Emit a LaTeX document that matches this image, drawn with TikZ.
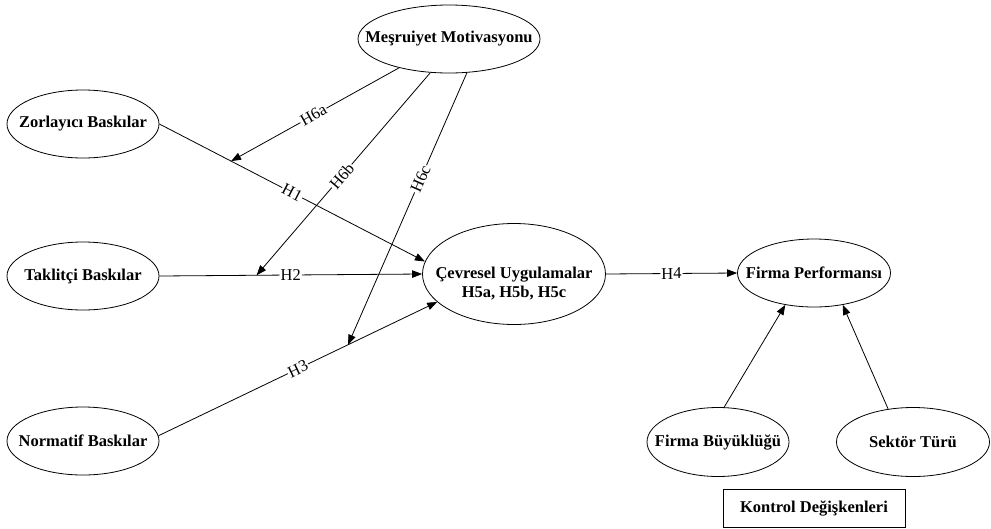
\documentclass[tikz,border=0pt]{standalone}
\usepackage{fontspec}
\setmainfont{Liberation Serif}
\usetikzlibrary{shapes.geometric}
\usetikzlibrary{arrows.meta}
\newcommand{\ovaltext}[1]{\makebox[0pt]{#1}}

\begin{document}
\begin{tikzpicture}[x=1pt, y=-1pt, line width=0.8pt,
    every node/.style={font=\fontsize{16.5}{19}\selectfont},
    oval/.style={draw, ellipse, inner sep=0pt, minimum width=152pt,
      minimum height=68pt, font=\fontsize{16.5}{19}\selectfont\bfseries},
    hyp/.style={fill=white, inner sep=1pt, sloped},
    >={Triangle[length=10pt, width=7.5pt]}]

    \useasboundingbox (0,0) rectangle (991,528);

    % Nodes
    \node at (449,39) (mesr) [oval, minimum width=182pt] {\ovaltext{Meşruiyet Motivasyonu}};
    \node at (83,124) (zor) [oval] {\ovaltext{Zorlayıcı Baskılar}};
    \node at (83,276) (tak) [oval] {\ovaltext{Taklitçi Baskılar}};
    \node at (83,441) (norm) [oval] {\ovaltext{Normatif Baskılar}};
    \node at (514,274) (cev) [oval, minimum width=183pt, minimum height=101pt]
      {\ovaltext{\raisebox{-15pt}[0pt][0pt]{\begin{tabular}{@{}c@{}}Çevresel Uygulamalar\\H5a, H5b, H5c\end{tabular}}}};
    \node at (814,273) (perf) [oval, minimum width=153pt] {\ovaltext{Firma Performansı}};
    \node at (718,442) (buy) [oval, minimum width=142pt, minimum height=69pt] {\ovaltext{Firma Büyüklüğü}};
    \node at (913,442) (sek) [oval, minimum width=153pt, minimum height=69pt] {\ovaltext{Sektör Türü}};
    \node at (814,508) (kontrol) [draw, minimum width=182pt, minimum height=38pt,
      font=\fontsize{16.5}{19}\selectfont\bfseries] {Kontrol Değişkenleri};

    % Arrows
    \draw[->] (zor.east) -- coordinate[pos=0.27] (onH1) node[hyp] {H1} (cev.172);
    \draw[->] (tak.east) -- coordinate[pos=0.37] (onH2) node[hyp] {H2} (cev.west);
    \draw[->] (norm.4) -- coordinate[pos=0.68] (onH3) node[hyp] {H3} (cev.200);
    \draw[->] (cev.east) -- node[hyp] {H4} (perf.west);

    % Moderating arrows from Meşruiyet
    \draw[->] (mesr.210) -- node[hyp, pos=0.51] {H6a} (onH1);
    \draw[->] (mesr.241) -- node[hyp, pos=0.51] {H6b} (onH2);
    \draw[->] (mesr.298) -- node[hyp, pos=0.39] {H6c} (onH3);

    % Control variables
    \draw[->] (buy.80) -- (perf.228);
    \draw[->] (sek.127) -- (perf.312);

\end{tikzpicture}
\end{document}
